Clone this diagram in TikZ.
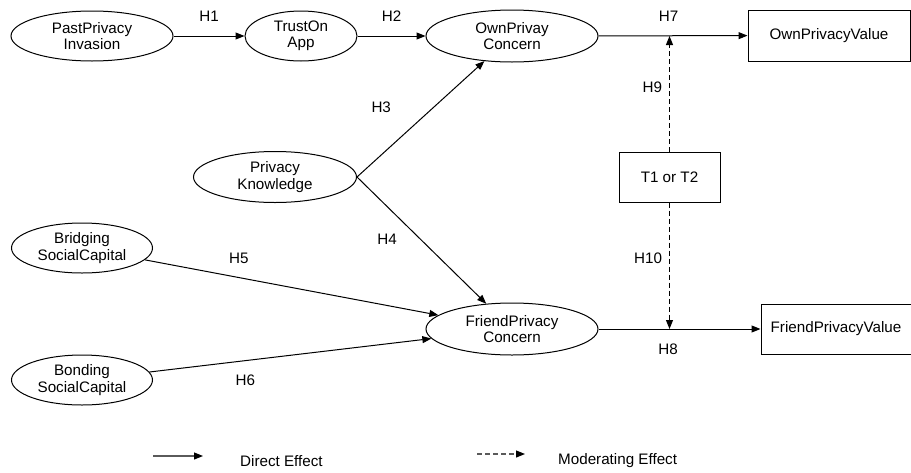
\documentclass[tikz,border=0pt]{standalone}
\usepackage{fontspec}
\setmainfont{Liberation Sans}
\usepackage{xcolor}
\usepackage{tikz}
\usetikzlibrary{positioning,arrows.meta,calc,shapes.geometric}
\definecolor{lgGrey}{HTML}{5A5A5A}
\tikzset{
  lat/.style={draw, ellipse, line width=1pt, align=center, inner sep=0pt},
  obs/.style={draw, rectangle, line width=1pt, align=center, inner sep=0pt},
  arr/.style={-{Triangle[length=9pt,width=7pt]}, line width=1pt},
  arrd/.style={arr, dash pattern=on 5pt off 3pt},
  arrg/.style={-{Triangle[length=9pt,width=7pt,black]}, line width=1.1pt, lgGrey},
  hlab/.style={inner sep=0pt},
}

\begin{document}
\begin{tikzpicture}[x=1pt, y=-1pt, font=\fontsize{15.2}{16.5}\selectfont]
  \useasboundingbox (0,0) rectangle (911,472);
  % constructs
  \node[lat, minimum width=162, minimum height=50] (ppi) at (92,36) {PastPrivacy\\Invasion};
  \node[lat, minimum width=112, minimum height=50] (toa) at (301,36) {TrustOn\\App};
  \node[lat, minimum width=172, minimum height=52] (opc) at (512,36) {OwnPrivay\\Concern};
  \node[obs, minimum width=162, minimum height=51] (opv) at (829,35.5) {OwnPrivacyValue};
  \node[lat, minimum width=163, minimum height=51] (pk) at (275,177) {Privacy\\Knowledge};
  \node[obs, minimum width=101, minimum height=50] (tt) at (669.5,177) {T1 or T2};
  \node[lat, minimum width=141, minimum height=50] (brc) at (82,248) {Bridging\\SocialCapital};
  \node[lat, minimum width=141, minimum height=50] (boc) at (82,380) {Bonding\\SocialCapital};
  \node[lat, minimum width=172, minimum height=52] (fpc) at (512,329) {FriendPrivacy\\Concern};
  \node[obs, minimum width=150, minimum height=50] (fpv) at (836,329) {FriendPrivacyValue};
  % direct effects
  \draw[arr] (ppi) -- node[hlab, midway, above=14pt] (h1) {H1} (toa);
  \draw[arr] (toa) -- node[hlab, midway, above=14pt] (h2) {H2} (opc);
  \draw[arr] (pk.east) -- node[hlab, pos=0.6, left=42pt] (h3) {H3} (opc);
  \draw[arr] (pk.east) -- node[hlab, pos=0.49, left=23pt] (h4) {H4} (fpc);
  \draw[arr] (brc) -- node[hlab, pos=0.32, above=13pt] (h5) {H5} (fpc);
  \draw[arr] (boc) -- node[hlab, pos=0.34, below=14pt] (h6) {H6} (fpc);
  \draw[arr] (opc) -- node[hlab, pos=0.47, above=14pt] (h7) {H7} (opv);
  \draw[arr] (fpc) -- node[hlab, pos=0.43, below=14pt] (h8) {H8} (fpv);
  % moderation
  \draw[arrd] (tt.north) -- node[hlab, pos=0.56, left=7pt] (h9) {H9} (tt.north |- opc.east);
  \draw[arrd] (tt.south) -- node[hlab, pos=0.44, left=7pt] (h10) {H10} (tt.south |- fpc.east);
  % legend
  \coordinate (ld1) at (153,456);
  \coordinate (ld2) at (203,456);
  \coordinate (lm1) at (477,454);
  \coordinate (lm2) at (525,454);
  \draw[arrg] (ld1) -- (ld2);
  \draw[arrg, dash pattern=on 5pt off 3pt] (lm1) -- (lm2);
  \node[hlab, anchor=west] (ldt) at (240,461) {Direct Effect};
  \node[hlab, anchor=west] (lmt) at (558,461) {Moderating Effect};
\end{tikzpicture}
\end{document}
